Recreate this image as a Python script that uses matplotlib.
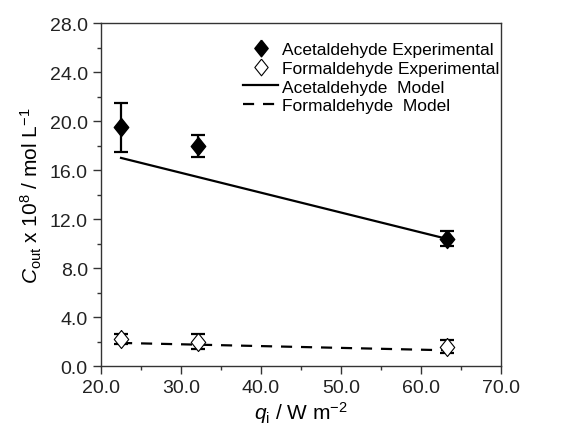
import numpy as np
import matplotlib
matplotlib.use("Agg")
import matplotlib.pyplot as plt
from matplotlib.lines import Line2D
from matplotlib.ticker import MultipleLocator, FormatStrFormatter

plt.rcParams["font.family"] = ["Liberation Sans", "DejaVu Sans"]
plt.rcParams["mathtext.fontset"] = "custom"
plt.rcParams["mathtext.rm"] = "Liberation Sans"
plt.rcParams["mathtext.it"] = "Liberation Sans:italic"

# data
q_exp = [22.5, 32.1, 63.2]
acet_exp = [19.5, 18.0, 10.4]
acet_err = [2.0, 0.9, 0.6]
form_exp = [2.2, 2.0, 1.6]
form_err = [0.4, 0.6, 0.5]

q_model = [22.5, 63.2]
acet_model = [17.0, 10.4]
form_model = [1.9, 1.3]

# slightly tall diamond like the original
diamond = [(0, 1), (0.8, 0), (0, -1), (-0.8, 0), (0, 1)]
ms = 13

fig = plt.figure(figsize=(5.84, 4.31), dpi=100)
ax = fig.add_axes([0.173, 0.148, 0.685, 0.796])

ax.plot(q_model, acet_model, "-", color="black", lw=1.6)
ax.plot(q_model, form_model, "--", color="black", lw=1.6, dashes=(5, 4))

ax.errorbar(q_exp, acet_exp, yerr=acet_err, fmt="none", ecolor="black",
            elinewidth=1.6, capsize=4.7, capthick=1.6, zorder=3)
ax.plot(q_exp, acet_exp, ls="none", marker=diamond, ms=ms, color="black", zorder=4)
ax.errorbar(q_exp, form_exp, yerr=form_err, fmt="none", ecolor="black",
            elinewidth=1.6, capsize=4.7, capthick=1.6, zorder=3)
ax.plot(q_exp, form_exp, ls="none", marker=diamond, ms=ms, mfc="white",
        mec="black", mew=0.8, zorder=4)

ax.set_xlim(20, 70)
ax.set_ylim(0, 28)
ax.xaxis.set_major_locator(MultipleLocator(10))
ax.xaxis.set_minor_locator(MultipleLocator(5))
ax.yaxis.set_major_locator(MultipleLocator(4))
ax.yaxis.set_minor_locator(MultipleLocator(2))
ax.xaxis.set_major_formatter(FormatStrFormatter("%.1f"))
ax.yaxis.set_major_formatter(FormatStrFormatter("%.1f"))
ax.tick_params(which="major", direction="out", length=6, width=1, labelsize=14,
               colors="#333333", labelcolor="#222222")
ax.tick_params(which="minor", direction="out", length=3, width=1, colors="#333333")
for s in ax.spines.values():
    s.set_linewidth(1)
    s.set_color("#333333")

ax.set_xlabel("$q_\\mathrm{i}$ / W m$^{-2}$", fontsize=15, labelpad=2)
ax.set_ylabel("$C_\\mathrm{out}$ x 10$^8$ / mol L$^{-1}$", fontsize=15, labelpad=4)

handles = [
    Line2D([], [], ls="none", marker=diamond, ms=12, color="black"),
    Line2D([], [], ls="none", marker=diamond, ms=12, mfc="white", mec="black", mew=0.8),
    Line2D([], [], ls="-", color="black", lw=1.6),
    Line2D([], [], ls="--", color="black", lw=1.6, dashes=(5, 4)),
]
labels = ["Acetaldehyde Experimental", "Formaldehyde Experimental",
          "Acetaldehyde  Model", "Formaldehyde  Model"]
ax.legend(handles, labels, loc="upper left", bbox_to_anchor=(0.33, 0.975),
          frameon=False, fontsize=12.5, handlelength=2.0, handletextpad=0.2,
          labelspacing=0.2, borderaxespad=0.2)

fig.savefig("out.png", dpi=100)
